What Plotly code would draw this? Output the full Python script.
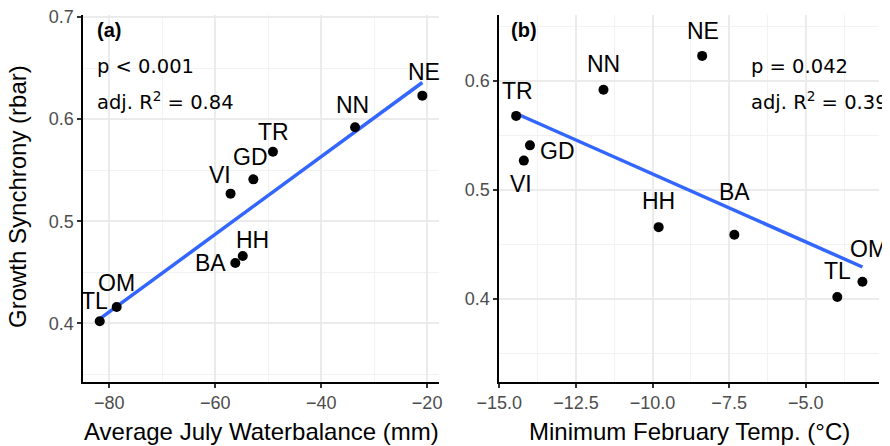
import numpy as np
import plotly.graph_objects as go

# ---------------- data ----------------
sites = ["TL", "OM", "BA", "HH", "VI", "GD", "TR", "NN", "NE"]
rbar = [0.402, 0.416, 0.459, 0.466, 0.527, 0.541, 0.568, 0.592, 0.623]
waterbalance = [-81.8, -78.6, -56.2, -54.8, -57.1, -52.8, -49.1, -33.6, -20.9]
min_feb_temp = [-3.97, -3.15, -7.33, -9.80, -14.20, -14.00, -14.45, -11.60, -8.38]

# label offsets (pixels) for panel a and b  (dx right, dy up)
lab_dx_a = [-5, 0, -25, 10, -11, -3, 1, -3, 2]
lab_dy_a = [20, 24, 0, 16, 19, 22, 20, 22, 24]
lab_dx_b = [0, 6, 0, 0, -3, 28, 1, 0, 1]
lab_dy_b = [26, 33, 43, 26, -23, -6, 25, 26, 25]

xticks_a = [-80, -60, -40, -20]
xticklabels_a = ["\u221280", "\u221260", "\u221240", "\u221220"]
xticks_b = [-15.0, -12.5, -10.0, -7.5, -5.0]
xticklabels_b = ["\u221215.0", "\u221212.5", "\u221210.0", "\u22127.5", "\u22125.0"]
yticks_a = [0.4, 0.5, 0.6, 0.7]
yticks_b = [0.4, 0.5, 0.6]

stats_a = ["p < 0.001", "adj. R<sup>2</sup> = 0.84"]
stats_b = ["p = 0.042", "adj. R<sup>2</sup> = 0.39"]

# ---------------- layout helpers ----------------
# page body has an 8px margin, so the figure is drawn 8px right/down
OFF = 8
W, H = 890 - OFF, 446 - OFF
def px(x):
    return (x - OFF) / W
def py(y):
    return (H - (y - OFF)) / H

BLUE = "#3366FF"
SANS = "Liberation Sans, Arial, Helvetica, sans-serif"
LABEL_FONT = dict(family=SANS, size=23, color="black")
STAT_FONT = dict(family="DejaVu Sans, sans-serif", size=19.5, color="black")
TITLE_FONT = dict(family=SANS, size=24, color="black")

fig = go.Figure()

def add_panel(xvals, xa, ya):
    xs = np.array(xvals)
    ys = np.array(rbar)
    slope, icpt = np.polyfit(xs, ys, 1)
    lx = np.array([xs.min(), xs.max()])
    fig.add_trace(go.Scatter(x=lx, y=slope * lx + icpt, mode="lines",
                             line=dict(color=BLUE, width=3.5),
                             xaxis=xa, yaxis=ya, showlegend=False, hoverinfo="skip",
                             cliponaxis=False))
    fig.add_trace(go.Scatter(x=xs, y=ys, mode="markers",
                             marker=dict(color="black", size=10),
                             xaxis=xa, yaxis=ya, showlegend=False, cliponaxis=False))

add_panel(waterbalance, "x", "y")
add_panel(min_feb_temp, "x2", "y2")

axis_common = dict(
    showline=True, linecolor="black", linewidth=2,
    ticks="outside", ticklen=4, tickwidth=1.5, tickcolor="#333333",
    showgrid=True, gridcolor="#EBEBEB", gridwidth=1.6,
    zeroline=False, automargin=False, ticklabeloverflow="allow",
    tickfont=dict(family=SANS, size=18, color="#4D4D4D"),
)

yd = [py(381.5), py(15)]
fig.update_layout(
    width=W, height=H,
    margin=dict(l=0, r=0, t=0, b=0, autoexpand=False),
    paper_bgcolor="white", plot_bgcolor="white",
    xaxis=dict(domain=[px(83.3), px(439.3)], range=[-84.9, -17.7],
               tickvals=xticks_a, ticktext=xticklabels_a, anchor="y",
               minor=dict(dtick=10, tick0=-90, showgrid=True, gridcolor="#F2F2F2", gridwidth=1, ticks=""),
               **axis_common),
    yaxis=dict(domain=yd, range=[0.343, 0.702], tickvals=yticks_a,
               ticktext=[f"{v:.1f}" for v in yticks_a], anchor="x",
               minor=dict(dtick=0.05, tick0=0.35, showgrid=True, gridcolor="#F2F2F2", gridwidth=1, ticks=""),
               **axis_common),
    xaxis2=dict(domain=[px(499.3), px(879.3)], range=[-15.0, -2.6],
                tickvals=xticks_b, ticktext=xticklabels_b, anchor="y2",
                minor=dict(dtick=1.25, tick0=-15, showgrid=True, gridcolor="#F2F2F2", gridwidth=1, ticks=""),
                **axis_common),
    yaxis2=dict(domain=yd, range=[0.3245, 0.6605], tickvals=yticks_b,
                ticktext=[f"{v:.1f}" for v in yticks_b], anchor="x2",
                minor=dict(dtick=0.05, tick0=0.35, showgrid=True, gridcolor="#F2F2F2", gridwidth=1, ticks=""),
                **axis_common),
)

ann = []
# point labels
for i, s in enumerate(sites):
    ann.append(dict(x=waterbalance[i], y=rbar[i], xref="x", yref="y", text=s,
                    showarrow=False, xshift=lab_dx_a[i], yshift=lab_dy_a[i], font=LABEL_FONT))
    ann.append(dict(x=min_feb_temp[i], y=rbar[i], xref="x2", yref="y2", text=s,
                    showarrow=False, xshift=lab_dx_b[i], yshift=lab_dy_b[i], font=LABEL_FONT))

# panel tags
TAG_FONT = dict(family=SANS, size=20, color="black")
ann.append(dict(x=px(95), y=py(30), xref="paper", yref="paper", text="<b>(a)</b>",
                showarrow=False, xanchor="left", yanchor="middle", font=TAG_FONT))
ann.append(dict(x=px(509), y=py(30), xref="paper", yref="paper", text="<b>(b)</b>",
                showarrow=False, xanchor="left", yanchor="middle", font=TAG_FONT))

# stats
for j, t in enumerate(stats_a):
    ann.append(dict(x=px(95), y=py(66 + 35 * j), xref="paper", yref="paper", text=t,
                    showarrow=False, xanchor="left", yanchor="middle", font=STAT_FONT))
for j, t in enumerate(stats_b):
    ann.append(dict(x=px(749), y=py(66 + 35 * j), xref="paper", yref="paper", text=t,
                    showarrow=False, xanchor="left", yanchor="middle", font=STAT_FONT))

# axis titles
ann.append(dict(x=px(261.3), y=py(431), xref="paper", yref="paper",
                text="Average July Waterbalance (mm)", showarrow=False,
                xanchor="center", yanchor="middle", font=TITLE_FONT))
ann.append(dict(x=px(689.3), y=py(431), xref="paper", yref="paper",
                text="Minimum February Temp. (\u00b0C)", showarrow=False,
                xanchor="center", yanchor="middle", font=TITLE_FONT))
ann.append(dict(x=px(18), y=py(197), xref="paper", yref="paper",
                text="Growth Synchrony (rbar)", showarrow=False, textangle=-90,
                xanchor="center", yanchor="middle", font=TITLE_FONT))

fig.update_layout(annotations=ann)
fig.write_html("out.html")
